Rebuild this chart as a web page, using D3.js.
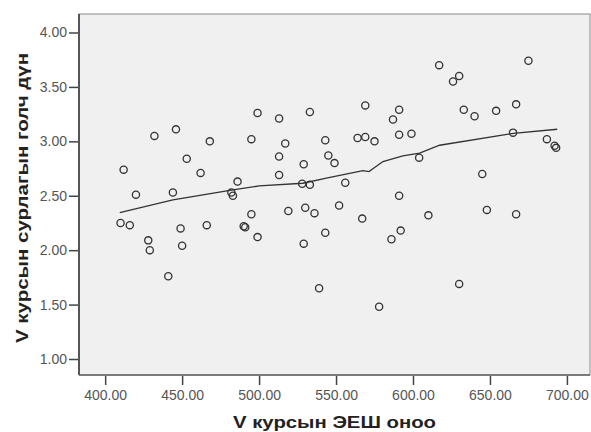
<!DOCTYPE html>
<html>
<head>
<meta charset="utf-8">
<script src="https://cdn.jsdelivr.net/npm/d3@7"></script>
<style>
  body { margin: 0; background: #fff; }
  svg { display: block; font-family: "Liberation Sans", Arial, sans-serif; }
  .tick text { fill: #555; font-size: 14px; }
  .tick line { stroke: #444; stroke-width: 1.5; }
  .axis-title { font-weight: bold; font-size: 16px; fill: #222; }
</style>
</head>
<body>
<svg id="chart" width="591" height="432"></svg>
<script>
/* ── Data ─────────────────────────────────────────────────────────────────── */

// V курсын ЭЕШ оноо (x) and сурлагын голч дүн (y)
const scoreX = [
  410, 416, 412, 420, 428, 429, 432, 441, 444, 446,
  449, 450, 453, 462, 466, 468, 482, 483, 486, 490,
  491, 495, 495, 499, 499, 513, 513, 513, 517, 519,
  529, 528, 533, 530, 536, 529, 533, 539, 543, 543,
  545, 549, 552, 556, 564, 569, 569, 567, 575, 578,
  586, 587, 591, 591, 591, 592, 599, 604, 610, 617,
  626, 630, 630, 633, 640, 645, 648, 654, 665, 667,
  667, 675, 687, 692, 693,
];
const gpaY = [
  2.25, 2.23, 2.74, 2.51, 2.09, 2.00, 3.05, 1.76, 2.53, 3.11,
  2.20, 2.04, 2.84, 2.71, 2.23, 3.00, 2.53, 2.50, 2.63, 2.22,
  2.21, 3.02, 2.33, 3.26, 2.12, 3.21, 2.86, 2.69, 2.98, 2.36,
  2.79, 2.61, 2.60, 2.39, 2.34, 2.06, 3.27, 1.65, 3.01, 2.16,
  2.87, 2.80, 2.41, 2.62, 3.03, 3.04, 3.33, 2.29, 3.00, 1.48,
  2.10, 3.20, 3.29, 3.06, 2.50, 2.18, 3.07, 2.85, 2.32, 3.70,
  3.55, 3.60, 1.69, 3.29, 3.23, 2.70, 2.37, 3.28, 3.08, 3.34,
  2.33, 3.74, 3.02, 2.96, 2.94,
];

// fit line
const fitX = [409.5, 444, 483, 500, 528.5, 543.7, 567.5, 571.4, 580.5, 593.4, 604.3, 617.3, 665.3, 693.7];
const fitY = [2.345, 2.462, 2.554, 2.59, 2.615, 2.661, 2.731, 2.722, 2.814, 2.866, 2.891, 2.964, 3.074, 3.111];

const xTicks = [400, 450, 500, 550, 600, 650, 700];
const yTicks = [1.0, 1.5, 2.0, 2.5, 3.0, 3.5, 4.0];

const X_TITLE = "V курсын ЭЕШ оноо";
const Y_TITLE = "V курсын сурлагын голч дүн";

/* ── Chart ────────────────────────────────────────────────────────────────── */

const svg = d3.select("#chart");
const m = { left: 79, top: 14, right: 590, bottom: 375 };

const x = d3.scaleLinear().domain([383, 715]).range([m.left, m.right]);
const y = d3.scaleLinear().domain([0.853, 4.17]).range([m.bottom, m.top]);

// plot background + frame
svg.append("rect")
  .attr("x", m.left).attr("y", m.top)
  .attr("width", m.right - m.left).attr("height", m.bottom - m.top)
  .attr("fill", "#f0f0f0")
  .attr("stroke", "#888")
  .attr("stroke-width", 1);

svg.append("line")
  .attr("x1", m.left).attr("x2", m.left)
  .attr("y1", m.top).attr("y2", m.bottom)
  .attr("stroke", "#555").attr("stroke-width", 2);
svg.append("line")
  .attr("x1", m.left).attr("x2", m.right)
  .attr("y1", m.bottom).attr("y2", m.bottom)
  .attr("stroke", "#666").attr("stroke-width", 1.5);

// axes
const fmt = d3.format(".2f");

const gy = svg.append("g")
  .attr("transform", `translate(${m.left - 1},0)`)
  .call(d3.axisLeft(y).tickValues(yTicks).tickFormat(fmt).tickSize(9).tickPadding(2));
gy.select(".domain").remove();

const gx = svg.append("g")
  .attr("transform", `translate(0,${m.bottom + 1})`)
  .call(d3.axisBottom(x).tickValues(xTicks).tickFormat(fmt).tickSize(9).tickPadding(5));
gx.select(".domain").remove();

// fit line
const line = d3.line()
  .x((d) => x(d[0]))
  .y((d) => y(d[1]));

svg.append("path")
  .datum(fitX.map((v, i) => [v, fitY[i]]))
  .attr("d", line)
  .attr("fill", "none")
  .attr("stroke", "#333")
  .attr("stroke-width", 1.3);

// points
svg.append("g")
  .selectAll("circle")
  .data(scoreX.map((v, i) => [v, gpaY[i]]))
  .join("circle")
  .attr("cx", (d) => x(d[0]))
  .attr("cy", (d) => y(d[1]))
  .attr("r", 3.6)
  .attr("fill", "none")
  .attr("stroke", "#333")
  .attr("stroke-width", 1.3);

// axis titles (centred on the plot area)
svg.append("text")
  .attr("class", "axis-title")
  .attr("x", (m.left + m.right) / 2)
  .attr("y", 428)
  .attr("text-anchor", "middle")
  .attr("textLength", 203)
  .attr("lengthAdjust", "spacingAndGlyphs")
  .text(X_TITLE);

svg.append("text")
  .attr("class", "axis-title")
  .attr("transform", "rotate(-90)")
  .attr("x", -198)
  .attr("y", 28)
  .attr("text-anchor", "middle")
  .attr("textLength", 290)
  .attr("lengthAdjust", "spacingAndGlyphs")
  .text(Y_TITLE);
</script>
</body>
</html>
